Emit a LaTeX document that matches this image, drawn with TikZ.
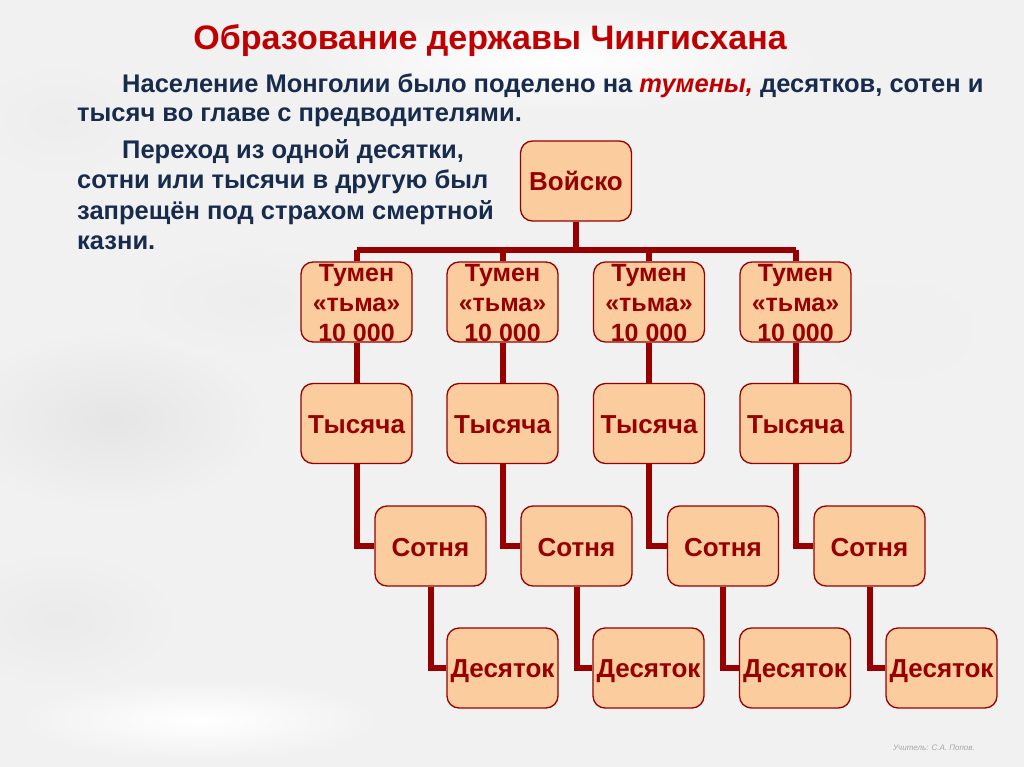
\documentclass[tikz,border=0pt]{standalone}
\usepackage{fontspec}
\setmainfont{Liberation Sans}
\usetikzlibrary{calc}
\definecolor{bgc}{RGB}{241,241,241}
\definecolor{lnk}{RGB}{150,0,0}
\definecolor{peach}{RGB}{251,204,158}
\definecolor{ttl}{RGB}{192,0,0}
\definecolor{navy}{RGB}{23,43,77}
\tikzset{
  box/.style={draw=lnk, line width=1.3pt, fill=peach, rounded corners=12pt,
    minimum width=111pt, minimum height=80pt, inner sep=0pt},
  boxtxt/.style={text=lnk, font=\bfseries\fontsize{26}{30}\selectfont, align=center, inner sep=0pt},
  tmtxt/.style={boxtxt, font=\bfseries\fontsize{25}{30}\selectfont},
  link/.style={draw=lnk, line width=6pt},
  body/.style={text=navy, font=\bfseries\fontsize{25.5}{30}\selectfont, align=left, anchor=base west, inner sep=0pt},
}
\begin{document}
\begin{tikzpicture}[x=1pt,y=-1pt]
\useasboundingbox (0,0) rectangle (1024,767);
\fill[bgc] (0,0) rectangle (1024,767);
% marble-like soft patches
\shade[inner color=gray!20, outer color=bgc] (110,420) ellipse (160 and 90);
\shade[inner color=gray!16, outer color=bgc] (60,620) ellipse (120 and 70);
\shade[inner color=gray!14, outer color=bgc] (250,300) ellipse (130 and 60);
\shade[inner color=gray!12, outer color=bgc] (900,330) ellipse (120 and 80);
\shade[inner color=gray!14, outer color=bgc] (60,120) ellipse (90 and 60);
\shade[inner color=white, outer color=bgc] (560,60) ellipse (260 and 50);
\shade[inner color=white, outer color=bgc] (200,720) ellipse (180 and 40);

% title and text
\node[text=ttl, font=\bfseries\fontsize{34}{38}\selectfont, anchor=base, inner sep=0pt] (title) at (490,50) {Образование державы Чингисхана};
\node[body] (p1a) at (122,93) {Население Монголии было поделено на \textcolor{ttl}{\itshape тумены,} десятков, сотен и};
\node[body] (p1b) at (77,122) {тысяч во главе с предводителями.};
\node[body] (p2a) at (122,159) {Переход из одной десятки,};
\node[body] (p2b) at (77,189) {сотни или тысячи в другую был};
\node[body] (p2c) at (77,219) {запрещён под страхом смертной};
\node[body] (p2d) at (77,249) {казни.};

% boxes
\node[box] (army) at (576,181) {};
\node[boxtxt] at (army) {Войско};

\foreach \i/\x in {1/356.5,2/502.5,3/649,4/795.5}{
  \node[box] (tm\i) at (\x,302) {};
  \node[tmtxt, yshift=-1pt] at (tm\i) {Тумен\\«тьма»\\10~000};
  \node[box] (ts\i) at (\x,423.5) {};
  \node[boxtxt] at ($(ts\i)+(0,1.5)$) {Тысяча};
  \node[box] (st\i) at ($(\x,546)+(74,0)$) {};
  \node[boxtxt] at ($(st\i)+(0,1.5)$) {Сотня};
  \node[box] (ds\i) at ($(\x,668)+(146,0)$) {};
  \node[boxtxt] at ($(ds\i)+(0,3)$) {Десяток};
}

% connectors
\coordinate (bus) at ($(army.south)+(0,28)$);
\draw[link] (army.south) -- (bus);
\draw[link] (tm1.north |- bus) -- (tm4.north |- bus);
\foreach \i in {1,...,4}{
  \draw[link] (tm\i.north |- bus) -- (tm\i.north);
  \draw[link] (tm\i.south) -- (ts\i.north);
  \draw[link] (ts\i.south) |- (st\i.west);
  \draw[link] (st\i.south) |- (ds\i.west);
}

\node[text=gray!70, font=\itshape\fontsize{8}{9}\selectfont, anchor=base east, inner sep=0pt] (author) at (975,750) {Учитель: С.А. Попов.};
\end{tikzpicture}
\end{document}
